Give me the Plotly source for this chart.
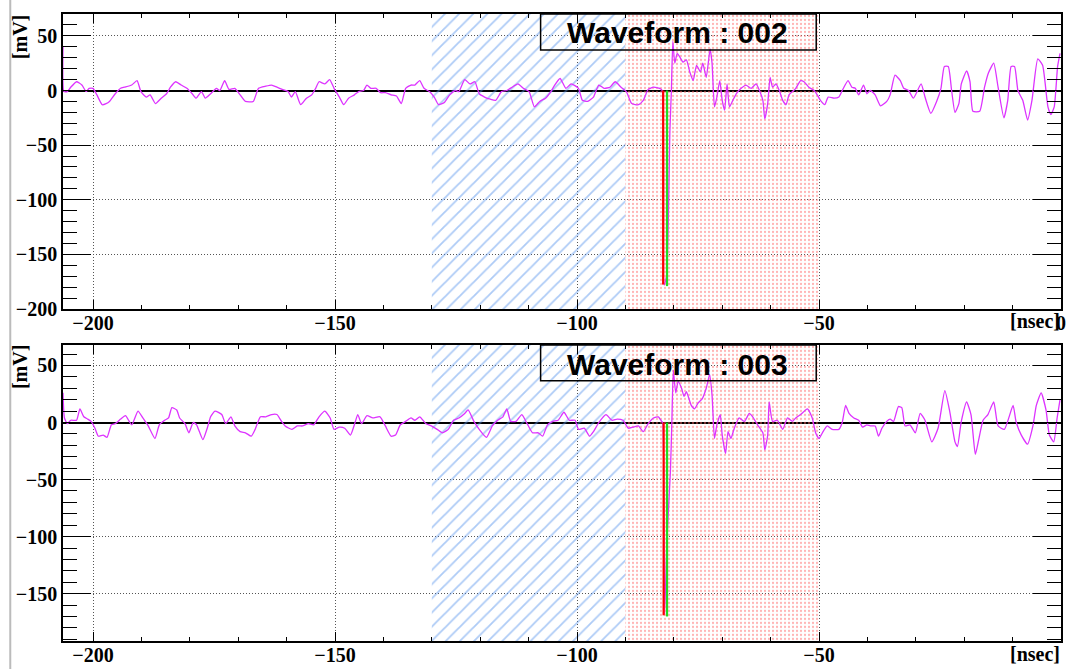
import plotly.graph_objects as go

# ---------------- data ----------------
# Waveform 002 (top panel): time [nsec], amplitude [mV]
t_002 = [-206.2, -206.0, -205.3, -204.6, -203.4, -202.3, -201.4, -200.8, -200.0, -199.2,
         -198.1, -197.3, -196.6, -195.4, -194.3, -193.5, -192.0, -190.9, -190.1, -189.0,
         -188.2, -187.1, -185.9, -184.8, -184.0, -182.9, -181.8, -180.6, -179.5, -178.7,
         -177.6, -176.8, -175.7, -174.5, -173.8, -172.8, -171.9, -170.7, -169.6, -168.5,
         -166.9, -165.8, -164.3, -163.1, -162.0, -160.9, -159.7, -159.0, -158.2, -157.1,
         -155.9, -154.8, -154.0, -153.3, -152.1, -151.1, -150.2, -149.1, -148.2, -147.2,
         -146.0, -145.1, -144.1, -143.4, -142.6, -141.5, -140.6, -139.6, -138.4, -137.3,
         -136.3, -135.4, -134.3, -133.5, -132.5, -131.6, -130.5, -129.5, -128.6, -127.4,
         -126.3, -125.1, -124.4, -123.2, -122.1, -121.1, -120.2, -119.1, -117.9, -116.8,
         -115.6, -114.5, -113.4, -112.2, -111.1, -109.9, -108.8, -107.7, -106.5, -105.4,
         -104.6, -103.5, -102.3, -101.2, -99.7, -98.9, -97.8, -96.6, -95.5, -94.4,
         -93.2, -92.1, -90.9, -89.8, -88.7, -87.3, -86.3, -85.3, -84.2, -82.9,
         -82.4, -82.0, -81.5, -80.8, -80.5, -80.2, -79.8, -79.3, -78.8, -78.1,
         -77.4, -76.7, -76.0, -75.3, -74.5, -74.0, -73.3, -72.5, -72.1, -71.6,
         -71.1, -70.5, -70.0, -69.5, -69.0, -68.5, -67.8, -67.1, -66.1, -65.1,
         -64.0, -63.0, -62.3, -61.6, -61.2, -60.6, -60.1, -59.6, -58.9, -58.2,
         -57.5, -56.8, -56.2, -55.5, -54.8, -53.8, -53.1, -52.1, -51.0, -50.5,
         -49.7, -48.8, -48.1, -46.9, -45.9, -45.2, -44.0, -43.2, -42.5, -41.8,
         -40.8, -40.1, -39.4, -38.4, -37.3, -36.0, -35.3, -34.3, -33.2, -32.5,
         -31.5, -30.5, -28.9, -28.1, -26.9, -25.7, -24.8, -24.1, -23.3, -22.6,
         -21.9, -21.1, -20.6, -19.5, -18.8, -18.2, -16.8, -15.8, -15.0, -13.9,
         -13.0, -11.8, -11.0, -10.3, -9.6, -8.9, -7.9, -6.9, -6.0, -4.8,
         -3.8, -2.7, -2.1, -1.4, -0.7, -0.2]
v_002 = [40, -1, -1, 3, 8, 5, -1, 2, 2, -4,
         -13, -12, -10, -3, 2, 3, 5, 9, -1, -6,
         -4, -12, -7, -3, 3, 8, 5, 2, -3, -7,
         -1, -7, -3, 2, 0, 9, 1, 2, -4, -10,
         -10, 2, 4, 5, 3, 1, -1, -6, -1, -13,
         -7, -4, 2, 8, 6, 10, 2, -6, -13, -7,
         -4, -1, 0, 5, 2, 2, -2, -2, -4, -5,
         -12, 2, 5, 5, 9, 2, -1, -6, -13, -11,
         -4, 0, -1, 10, 6, 8, -3, -6, -8, -9,
         -1, 0, 3, 6, 2, -1, -15, -10, -7, -1,
         5, 11, 2, 6, 2, -9, -10, -6, 5, 2,
         3, 8, 3, -1, -12, -13, -9, 1, 3, 2,
         0, -178, -170, -36, 0, 45, 25, 34, 31, 26,
         28, 17, 9, 23, 17, 25, 12, 38, 25, -15,
         -6, 9, -9, -18, 6, -15, -9, -3, 2, 5,
         2, 6, 0, -9, -26, -12, 12, 3, 6, 0,
         -9, -13, -4, -1, 2, 9, 8, 3, 0, -3,
         -9, -13, -6, -7, -6, 0, 9, 3, 2, -4,
         5, -3, 0, -4, -14, -10, -4, 14, 9, 2,
         0, -7, 6, -6, -21, -10, 2, 22, 22, 0,
         -20, -12, 6, 18, 8, -19, -19, 3, 16, 25,
         3, -25, -9, 22, 22, 0, -9, -27, -9, 29,
         23, -15, -22, -15, 22, 34]

# Waveform 003 (bottom panel)
t_003 = [-206.2, -205.9, -205.3, -204.6, -203.4, -202.7, -201.9, -201.1, -200.4, -199.6,
         -198.9, -197.9, -197.1, -196.2, -195.4, -194.3, -193.3, -192.0, -190.7, -189.7,
         -188.6, -187.2, -186.3, -185.2, -184.4, -183.7, -182.7, -182.1, -181.0, -180.2,
         -179.3, -178.6, -177.3, -176.4, -175.7, -174.8, -173.4, -172.6, -171.5, -170.7,
         -169.6, -168.5, -167.3, -166.5, -165.4, -164.3, -163.1, -162.0, -161.2, -160.3,
         -158.9, -157.8, -156.7, -155.5, -154.4, -153.3, -152.1, -151.0, -150.2, -149.1,
         -148.0, -146.8, -146.0, -145.3, -144.5, -143.4, -142.2, -140.7, -139.6, -138.4,
         -137.5, -136.5, -135.4, -134.3, -133.5, -132.5, -131.2, -130.1, -128.9, -127.8,
         -126.6, -125.5, -124.4, -123.2, -122.5, -121.3, -120.2, -118.7, -117.5, -116.4,
         -115.3, -114.5, -113.7, -112.6, -111.4, -110.3, -109.2, -108.0, -107.1, -106.1,
         -105.0, -103.9, -102.7, -101.6, -100.4, -99.7, -98.5, -97.4, -96.6, -95.5,
         -94.0, -92.8, -91.7, -90.5, -89.4, -88.4, -87.3, -86.3, -85.3, -84.2,
         -83.2, -82.5, -82.3, -81.9, -81.4, -80.7, -80.4, -80.1, -79.6, -79.1,
         -78.4, -77.9, -77.4, -76.4, -75.7, -75.0, -74.1, -73.3, -72.6, -72.1,
         -71.6, -71.1, -70.4, -70.0, -69.3, -68.8, -68.2, -67.5, -66.5, -65.4,
         -64.4, -63.7, -62.7, -61.6, -61.2, -60.6, -60.3, -59.6, -58.6, -57.5,
         -56.5, -55.5, -54.8, -53.8, -52.4, -51.4, -50.7, -50.0, -49.3, -48.3,
         -47.3, -45.9, -45.2, -44.5, -43.8, -42.8, -41.8, -41.0, -40.1, -39.4,
         -38.4, -37.7, -37.0, -36.0, -35.3, -34.6, -33.6, -32.9, -32.2, -31.2,
         -30.1, -29.1, -28.1, -26.7, -25.4, -24.0, -23.0, -21.9, -21.4, -20.6,
         -19.5, -18.6, -17.7, -17.0, -16.1, -15.1, -13.9, -13.0, -11.7, -9.9,
         -9.3, -8.2, -6.9, -5.8, -5.1, -4.1, -3.1, -2.4, -1.5, -0.8,
         -0.2]
v_003 = [26, 4, -1, 2, 2, 12, 5, 3, 1, -5,
         -12, -11, -13, -2, -1, 3, 6, -2, 10, 4,
         -3, -14, -2, 2, 4, 13, 11, 4, -1, -9,
         0, -2, -15, -5, 5, 10, 7, -1, 5, -3,
         -8, -9, -12, -6, 5, 5, 7, 7, 2, -3,
         -6, -3, -3, -1, -2, 5, 10, 4, -6, -4,
         -5, -11, -2, 7, -1, 6, 4, 5, -3, -12,
         -11, -2, 1, 4, 2, 5, -1, -3, -6, -9,
         -6, 2, 4, 8, 11, 1, -6, -13, -3, 2,
         5, 12, 1, 1, 7, -1, -9, -9, -12, -2,
         1, 2, 9, 2, 2, -6, -5, -12, -8, 0,
         7, 2, 3, 2, -5, -4, -3, -8, -1, 4,
         5, 1, 0, -168, -101, -43, 1, 46, 26, 36,
         30, 23, 27, 15, 12, 17, 21, 30, 42, 24,
         -14, -2, 7, -11, -27, -8, -14, -5, 4, 1,
         8, 5, -2, -9, -24, -11, 18, 1, 2, -6,
         4, 1, 4, 7, 12, 4, -9, -14, -9, -3,
         -6, -6, 0, 15, 8, 4, 2, -4, -2, -3,
         -3, -12, -5, 1, 3, 1, 14, 13, -3, -2,
         -9, 8, 2, -17, -5, 28, 10, -17, -21, 1,
         18, 7, -28, -15, 2, 7, 18, -3, -6, 15,
         1, -11, -19, -3, 15, 26, 11, -11, -17, 4,
         20]

# Analysis windows [nsec]
baseline_window = [-130, -90]   # blue hatched
signal_window = [-90, -50]      # red dotted

# Timing markers: (time, minimum amplitude)
red_002, red_min_002 = -82.2, -177.6
green_002, green_min_002 = -81.4, -179.0
red_003, red_min_003 = -82.1, -169.0
green_003, green_min_003 = -81.4, -170.0

titles = ["Waveform : 002", "Waveform : 003"]
x_range = [-206.2, 0.0]
y_range_002 = [-200, 70]
y_range_003 = [-191.5, 68]
x_ticks_top = [-200, -150, -100, -50, 0]
x_ticks_bottom = [-200, -150, -100, -50]
y_ticks_top = [-200, -150, -100, -50, 0, 50]
y_ticks_bottom = [-150, -100, -50, 0, 50]

# ---------------- figure ----------------
W, H = 1071, 671
# frame edges in window pixels
FL, FR, FT, FB = 63, 1066, 14, 643
ML, MR, MT, MB = FL, W - FR, FT, H - FB
PW, PH = W - ML - MR, H - MT - MB


def py(pix):  # window pixel row -> paper y
    return (FB - pix) / PH


def px(pix):  # window pixel column -> paper x
    return (pix - FL) / PW


top_dom = [py(310), 1.0]
bot_dom = [0.0, py(346)]

fig = go.Figure()

MAG = "#dd33ff"
panels = [
    ("x", "y", t_002, v_002, y_range_002, red_002, red_min_002, green_002, green_min_002),
    ("x2", "y2", t_003, v_003, y_range_003, red_003, red_min_003, green_003, green_min_003),
]
for xa, ya, tt, vv, yr, rt, rm, gt, gm in panels:
    span = yr[1] - yr[0]
    # blue hatched window
    fig.add_trace(go.Bar(
        x=[(baseline_window[0] + baseline_window[1]) / 2], y=[span], base=[yr[0]],
        width=[baseline_window[1] - baseline_window[0]],
        marker=dict(color="rgba(0,0,0,0)", line=dict(width=0),
                    pattern=dict(shape="/", fgcolor="#5c97ee", bgcolor="rgba(0,0,0,0)",
                                 size=10, solidity=0.18)),
        xaxis=xa, yaxis=ya, showlegend=False, hoverinfo="skip"))
    # red dotted window
    fig.add_trace(go.Bar(
        x=[(signal_window[0] + signal_window[1]) / 2], y=[span], base=[yr[0]],
        width=[signal_window[1] - signal_window[0]],
        marker=dict(color="rgba(0,0,0,0)", line=dict(width=0),
                    pattern=dict(shape=".", fgcolor="#ff6a6a", bgcolor="rgba(0,0,0,0)",
                                 size=4, solidity=0.25)),
        xaxis=xa, yaxis=ya, showlegend=False, hoverinfo="skip"))
    # waveform
    fig.add_trace(go.Scatter(x=tt, y=vv, mode="lines",
                             line=dict(color=MAG, width=1.3, shape="spline", smoothing=0.5),
                             xaxis=xa, yaxis=ya, showlegend=False))
    # timing markers
    fig.add_trace(go.Scatter(x=[rt, rt], y=[0, rm], mode="lines",
                             line=dict(color="#ff0000", width=2.2),
                             xaxis=xa, yaxis=ya, showlegend=False))
    fig.add_trace(go.Scatter(x=[gt, gt], y=[0, gm], mode="lines",
                             line=dict(color="#22dd22", width=2.2),
                             xaxis=xa, yaxis=ya, showlegend=False))

tickfont = dict(family="Liberation Serif", size=20, color="black", weight="bold")
GRID_DASH = "1px,2px"


def xaxis_cfg(anchor, ticks):
    return dict(domain=[0, 1], anchor=anchor, range=x_range, tickvals=ticks,
                ticks="inside", ticklen=9, tickwidth=1.3, tickcolor="black",
                minor=dict(dtick=10, tick0=0, ticks="inside", ticklen=4, tickcolor="black",
                           showgrid=False),
                showline=True, linecolor="black", linewidth=1.5, mirror="ticks",
                showgrid=True, gridcolor="#555", griddash=GRID_DASH, gridwidth=1,
                zeroline=False, tickfont=tickfont, ticklabelstandoff=-5,
                fixedrange=True)


def yaxis_cfg(anchor, dom, yr, ticks):
    return dict(domain=dom, anchor=anchor, range=yr, tickvals=ticks,
                ticks="inside", ticklen=28, tickwidth=1.3, tickcolor="black",
                minor=dict(dtick=10, tick0=0, ticks="inside", ticklen=14, tickcolor="black",
                           showgrid=False),
                showline=True, linecolor="black", linewidth=1.5, mirror="ticks",
                showgrid=True, gridcolor="#555", griddash=GRID_DASH, gridwidth=1,
                zeroline=True, zerolinecolor="black", zerolinewidth=1.5,
                tickfont=tickfont, fixedrange=True)


fig.update_layout(
    width=W, height=H,
    margin=dict(l=ML, r=MR, t=MT, b=MB),
    plot_bgcolor="white", paper_bgcolor="white",
    barmode="overlay",
    xaxis=xaxis_cfg("y", x_ticks_top),
    yaxis=yaxis_cfg("x", top_dom, y_range_002, y_ticks_top),
    xaxis2=xaxis_cfg("y2", x_ticks_bottom),
    yaxis2=yaxis_cfg("x2", bot_dom, y_range_003, y_ticks_bottom),
)

label_font = dict(family="Liberation Serif", size=20, color="black", weight="bold")
annos = []
for ymid in (py(37), py(368)):
    annos.append(dict(text="[mV]", xref="paper", yref="paper", x=px(20), y=ymid,
                      textangle=-90, showarrow=False, font=label_font,
                      xanchor="center", yanchor="middle"))
for ymid in (py(322), py(656)):
    annos.append(dict(text="[nsec]", xref="paper", yref="paper", x=px(1040), y=ymid,
                      showarrow=False, font=label_font, xanchor="center", yanchor="middle"))
title_font = dict(family="Liberation Sans", size=30, color="black", weight="bold")
for title, ymid in zip(titles, (py(33), py(366))):
    annos.append(dict(text=title, xref="paper", yref="paper", x=px(681), y=ymid,
                      showarrow=False, font=title_font, xanchor="center", yanchor="middle"))
fig.update_layout(annotations=annos)

shapes = []
for y0, y1 in ((py(50), py(14)), (py(382), py(346))):
    shapes.append(dict(type="rect", xref="paper", yref="paper", x0=px(543), x1=px(820),
                       y0=y0, y1=y1, line=dict(color="black", width=1.5),
                       fillcolor="rgba(0,0,0,0)"))
shapes.append(dict(type="line", xref="paper", yref="paper", x0=px(10), x1=px(10),
                   y0=py(H), y1=py(0), line=dict(color="#bbbbbb", width=2)))
fig.update_layout(shapes=shapes)

fig.write_html(
    "out.html",
    config={"displayModeBar": False},
    post_script=(
        "document.documentElement.style.overflow='hidden';"
        "document.body.style.margin='0';document.body.style.overflow='hidden';"
        "var d=document.getElementById('{plot_id}');"
        "d.style.position='fixed';d.style.left='0px';d.style.top='0px';"
    ),
)
